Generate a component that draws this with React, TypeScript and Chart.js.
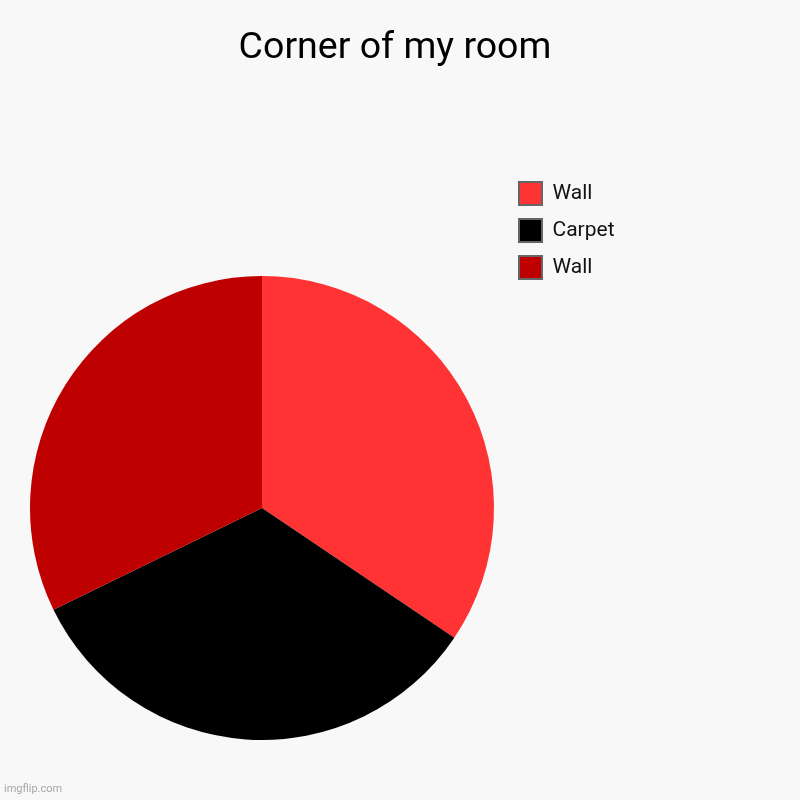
import React, { useEffect, useRef } from "react";
import { Chart, registerables } from "chart.js";

Chart.register(...registerables);

const labels = ["Wall", "Carpet", "Wall"];
const values = [31, 30, 29];
const colors = ["#ff3333", "#000000", "#bf0000"];

const TITLE = "Corner of my room";
const LEGEND_WIDTH = 266;

// widen the right-hand legend box so the pie sits on the left half
const legendWidth = {
  id: "legendWidth",
  beforeInit(chart: any) {
    const legend = chart.legend;
    if (!legend) return;
    const fit = legend.fit;
    legend.fit = function () {
      fit.call(this);
      this.width = LEGEND_WIDTH;
    };
  },
};

const bgColor = {
  id: "bgColor",
  beforeDraw(chart: any) {
    const { ctx, width, height } = chart;
    ctx.save();
    ctx.fillStyle = "#f8f8f8";
    ctx.fillRect(0, 0, width, height);
    ctx.restore();
  },
};

const PieChart: React.FC = () => {
  const canvasRef = useRef<HTMLCanvasElement>(null);
  const chartRef = useRef<Chart | null>(null);

  useEffect(() => {
    if (!canvasRef.current) return;
    chartRef.current?.destroy();

    chartRef.current = new Chart(canvasRef.current, {
      type: "pie",
      data: {
        labels,
        datasets: [
          {
            data: values,
            backgroundColor: colors,
            borderWidth: 0,
            hoverOffset: 0,
          },
        ],
      },
      options: {
        responsive: false,
        animation: false,
        layout: {
          padding: { left: 19, right: 29, top: 0, bottom: 60 },
        },
        plugins: {
          title: {
            display: true,
            text: TITLE,
            color: "#000",
            font: { family: "Roboto", size: 37.5, weight: "normal" },
            padding: { top: 26, bottom: 205 },
          },
          legend: {
            position: "right",
            align: "start",
            title: {
              display: true,
              text: "",
              font: { size: 10, lineHeight: 1 },
              padding: { top: 0, bottom: 158 },
            },
            labels: {
              boxWidth: 23,
              boxHeight: 23,
              padding: 14,
              color: "#111",
              font: { family: "Roboto", size: 21 },
              generateLabels: (chart: any) =>
                Chart.overrides.pie.plugins.legend.labels
                  .generateLabels(chart)
                  .map((item: any) => ({ ...item, strokeStyle: "#666", lineWidth: 2 })),
            },
          },
          tooltip: { enabled: false },
        },
      },
      plugins: [legendWidth, bgColor],
    });

    return () => {
      chartRef.current?.destroy();
      chartRef.current = null;
    };
  }, []);

  return <canvas ref={canvasRef} width={800} height={800} />;
};

export default function App() {
  useEffect(() => {
    document.body.style.margin = "0";
    document.body.style.background = "#f8f8f8";
  }, []);

  return (
    <div style={{ position: "relative", width: 800, height: 800, background: "#f8f8f8" }}>
      <PieChart />
      <div
        style={{
          position: "absolute",
          left: 4,
          top: 783,
          fontFamily: "Roboto",
          fontSize: 11,
          lineHeight: "11px",
          color: "#a6a6a6",
        }}
      >
        imgflip.com
      </div>
    </div>
  );
}
